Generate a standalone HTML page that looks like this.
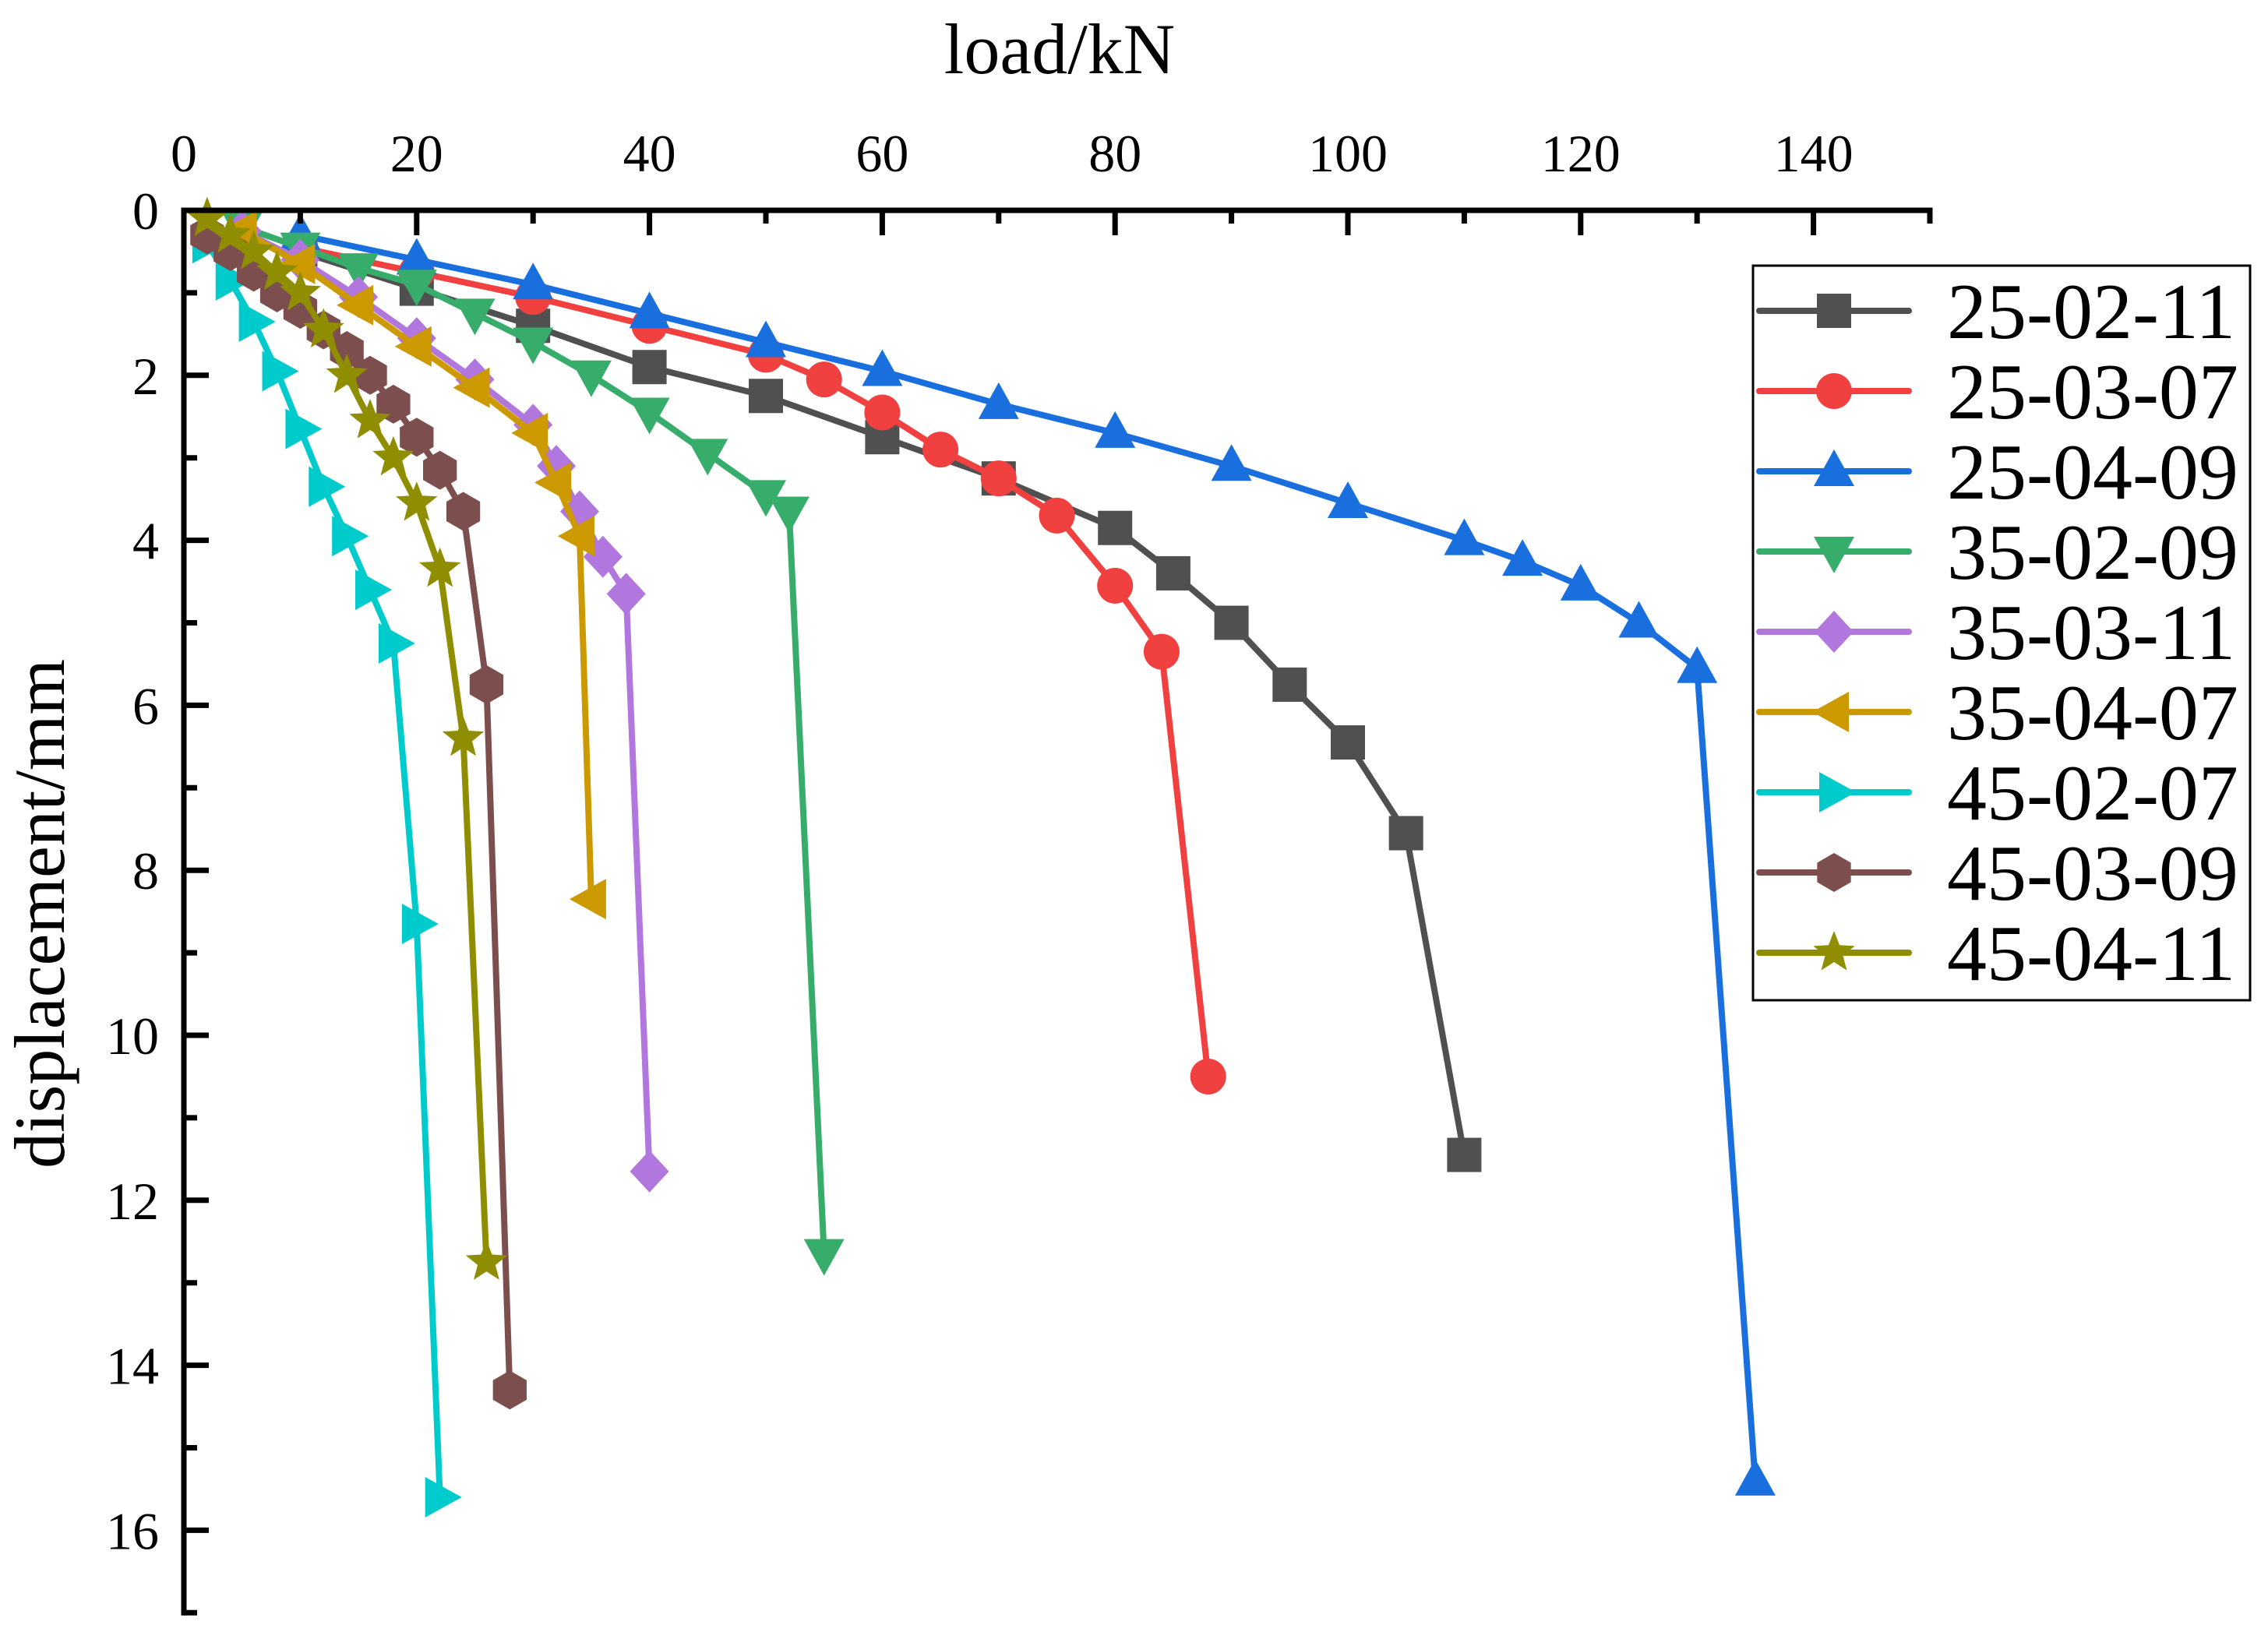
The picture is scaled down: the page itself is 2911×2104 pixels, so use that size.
<!DOCTYPE html>
<html><head><meta charset="utf-8"><style>
html,body{margin:0;padding:0;background:#fff;}
svg{display:block;font-family:"Liberation Serif",serif;}
</style></head><body>
<svg id="chart" width="2911" height="2104" viewBox="0 0 2911 2104" xmlns="http://www.w3.org/2000/svg"></svg>
<script>
const seriesNames = ["25-02-11","25-03-07","25-04-09","35-02-09","35-03-11","35-04-07","45-02-07","45-03-09","45-04-11"];
const load_25_02_11 = [10,20,30,40,50,60,70,80,85,90,95,100,105,110];
const disp_25_02_11 = [0.5,0.95,1.4,1.9,2.25,2.75,3.25,3.85,4.4,5.0,5.75,6.45,7.55,11.45];
const load_25_03_07 = [10,20,30,40,50,55,60,65,70,75,80,84,88];
const disp_25_03_07 = [0.45,0.75,1.05,1.4,1.75,2.05,2.45,2.9,3.25,3.7,4.55,5.35,10.5];
const load_25_04_09 = [10,20,30,40,50,60,70,80,90,100,110,115,120,125,130,135];
const disp_25_04_09 = [0.3,0.6,0.9,1.25,1.6,1.95,2.35,2.7,3.1,3.55,4.0,4.25,4.55,5.0,5.55,15.4];
const load_35_02_09 = [5,10,15,20,25,30,35,40,45,50,52,55];
const disp_35_02_09 = [0.2,0.45,0.7,0.9,1.25,1.6,2.0,2.45,2.95,3.45,3.65,12.65];
const load_35_03_11 = [5,10,15,20,25,30,32,34,36,38,40];
const disp_35_03_11 = [0.25,0.6,1.05,1.55,2.05,2.6,3.1,3.65,4.2,4.65,11.65];
const load_35_04_07 = [5,10,15,20,25,30,32,34,35];
const disp_35_04_07 = [0.25,0.65,1.15,1.65,2.15,2.7,3.3,3.95,8.35];
const load_45_02_07 = [2,4,6,8,10,12,14,16,18,20,22];
const disp_45_02_07 = [0.4,0.85,1.35,1.95,2.65,3.35,3.95,4.6,5.25,8.65,15.6];
const load_45_03_09 = [2,4,6,8,10,12,14,16,18,20,22,24,26,28];
const disp_45_03_09 = [0.3,0.5,0.75,1.0,1.2,1.45,1.7,2.0,2.35,2.75,3.15,3.65,5.75,14.3];
const load_45_04_11 = [2,4,6,8,10,12,14,16,18,20,22,24,26];
const disp_45_04_11 = [0.1,0.3,0.5,0.75,1.0,1.45,2.0,2.55,3.0,3.55,4.35,6.4,12.75];
const xTickLabels = ["0","20","40","60","80","100","120","140"];
const yTickLabels = ["0","2","4","6","8","10","12","14","16"];

const loads = [load_25_02_11,load_25_03_07,load_25_04_09,load_35_02_09,load_35_03_11,load_35_04_07,load_45_02_07,load_45_03_09,load_45_04_11];
const disps = [disp_25_02_11,disp_25_03_07,disp_25_04_09,disp_35_02_09,disp_35_03_11,disp_35_04_07,disp_45_02_07,disp_45_03_09,disp_45_04_11];
const colors = ["#505050","#F04040","#1A6FDF","#37AD6B","#B177DE","#CC9900","#00CBCC","#7D4E4E","#8E8E00"];
const shapes = ["square","circle","up","down","diamond","left","right","hex","star"];

const X0=236, XPX=14.94, Y0=270, YPX=105.9;
const xs = v => X0 + v*XPX;
const ys = v => Y0 + v*YPX;
const svg = document.getElementById('chart');
const NS = "http://www.w3.org/2000/svg";
function mk(tag, attrs, parent){const e=document.createElementNS(NS,tag);for(const k in attrs)e.setAttribute(k,attrs[k]);(parent||svg).appendChild(e);return e;}

function marker(shape,cx,cy,col,g){
  let e;
  if(shape==="square"){e=mk('rect',{x:cx-22,y:cy-22,width:44,height:44,fill:col},g);}
  else if(shape==="circle"){e=mk('circle',{cx:cx,cy:cy,r:23,fill:col},g);}
  else {
    let pts=[];
    if(shape==="up") pts=[[0,-28],[26,19],[-26,19]];
    else if(shape==="down") pts=[[0,28],[26,-19],[-26,-19]];
    else if(shape==="left") pts=[[-28,0],[19,-26],[19,26]];
    else if(shape==="right") pts=[[28,0],[-19,-26],[-19,26]];
    else if(shape==="diamond") pts=[[0,-27],[25,0],[0,27],[-25,0]];
    else if(shape==="hex"){for(let i=0;i<6;i++){const a=Math.PI/3*i-Math.PI/2;pts.push([25*Math.cos(a),25*Math.sin(a)]);}}
    else if(shape==="star"){for(let i=0;i<10;i++){const a=Math.PI/5*i-Math.PI/2;const rr=i%2?12:28;pts.push([rr*Math.cos(a),rr*Math.sin(a)]);}}
    e=mk('polygon',{points:pts.map(p=>(cx+p[0])+','+(cy+p[1])).join(' '),fill:col},g);
  }
  return e;
}

for(let s=0;s<seriesNames.length;s++){
  const g=mk('g',{});
  
  
  const pts=loads[s].map((v,i)=>xs(v)+','+ys(disps[s][i])).join(' ');
  const pl=mk('polyline',{points:pts,fill:'none',stroke:colors[s],'stroke-width':8,'stroke-linejoin':'round'},g);
  
  
  for(let i=0;i<loads[s].length;i++){
    const m=marker(shapes[s],xs(loads[s][i]),ys(disps[s][i]),colors[s],g);
    
    
  }
}

const ax=mk('g',{});


mk('line',{x1:X0,y1:Y0,x2:xs(150),y2:Y0,stroke:'#000','stroke-width':7,'stroke-linecap':'square'},ax);
mk('line',{x1:X0,y1:Y0,x2:X0,y2:ys(17),stroke:'#000','stroke-width':7,'stroke-linecap':'square'},ax);
for(let v=10;v<=150;v+=10){
  const major=v%20===0;
  mk('line',{x1:xs(v),y1:Y0,x2:xs(v),y2:Y0+(major?32:17),stroke:'#000','stroke-width':7},ax);
}
for(let v=1;v<=17;v++){
  const major=v%2===0;
  mk('line',{x1:X0,y1:ys(v),x2:X0+(major?32:17),y2:ys(v),stroke:'#000','stroke-width':7},ax);
}
xTickLabels.forEach((t,i)=>{
  const e=mk('text',{x:xs(i*20),y:220,'font-size':68,'text-anchor':'middle',fill:'#000'},ax);
  e.textContent=t;
  
  
});
yTickLabels.forEach((t,i)=>{
  const e=mk('text',{x:204,y:ys(i*2)+24,'font-size':68,'text-anchor':'end',fill:'#000'},ax);
  e.textContent=t;
  
  
});
</script>
<svg style="position:absolute;left:0;top:0" width="2911" height="2104">
  <text x="1360" y="94" font-size="92" text-anchor="middle" font-family="Liberation Serif, serif">load/kN</text>
  <text x="0" y="0" font-size="92" text-anchor="middle" font-family="Liberation Serif, serif" transform="translate(82,1173) rotate(-90)">displacement/mm</text>
  <g>
    <rect x="2250" y="341" width="638" height="943" fill="#fff" stroke="#000" stroke-width="3"/>
  </g>
  <g id="legend-entries"></g>
</svg>
<script>
(function(){
  const NS="http://www.w3.org/2000/svg";
  const g=document.getElementById('legend-entries');
  function mk2(tag,attrs){const e=document.createElementNS(NS,tag);for(const k in attrs)e.setAttribute(k,attrs[k]);g.appendChild(e);return e;}
  for(let s=0;s<seriesNames.length;s++){
    const y=399+s*103;
    const ln=mk2('line',{x1:2258,y1:y,x2:2450,y2:y,stroke:colors[s],'stroke-width':8,'stroke-linecap':'round'});
    
    
    const m=marker(shapes[s],2354,y,colors[s],g);
    
    
    const t=mk2('text',{x:2499,y:y+35,'font-size':102,'font-family':'Liberation Serif, serif',fill:'#000'});
    t.textContent=seriesNames[s];
    
    
  }
})();
</script>
</body></html>
